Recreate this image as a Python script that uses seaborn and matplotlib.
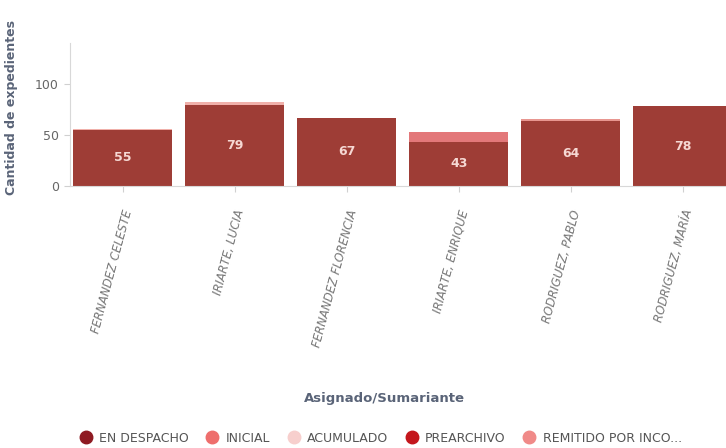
import seaborn as sns
import matplotlib.pyplot as plt
import pandas as pd
from matplotlib.lines import Line2D

# data
names = ["FERNANDEZ CELESTE", "IRIARTE, LUCIA", "FERNANDEZ FLORENCIA",
         "IRIARTE, ENRIQUE", "RODRIGUEZ, PABLO", "RODRIGUEZ, MARÍA"]
en_despacho = [55, 79, 67, 43, 64, 78]
inicial = [0, 0, 0, 10, 0, 0]
acumulado = [1, 3, 0, 0, 0, 0]
prearchivo = [0, 0, 0, 0, 0, 0]
remitido = [0, 0, 0, 0, 2, 0]

estados = ["EN DESPACHO", "INICIAL", "ACUMULADO", "PREARCHIVO", "REMITIDO POR INCO..."]
bar_colors = ["#9E3D36", "#E3787A", "#F0B0AA", "#C0282D", "#E89690"]
legend_colors = ["#8E1A22", "#EE6E6C", "#F7CFCD", "#C4161C", "#F08A88"]

df = pd.DataFrame({"Asignado": names, "EN DESPACHO": en_despacho, "INICIAL": inicial,
                   "ACUMULADO": acumulado, "PREARCHIVO": prearchivo,
                   "REMITIDO POR INCO...": remitido})

sns.set_style("white")
plt.rcParams['font.family'] = ['DejaVu Sans']
fig = plt.figure(figsize=(7.26, 4.48), dpi=100)
ax = fig.add_axes([0.0964, 0.585, 0.921, 0.319])

# stacked bars: draw cumulative totals from the top layer down
cum = df[estados].cumsum(axis=1)
for est, col in reversed(list(zip(estados, bar_colors))):
    sns.barplot(x=df["Asignado"], y=cum[est], color=col, width=0.89,
                saturation=1, ax=ax, edgecolor="none")

for i, v in enumerate(en_despacho):
    ax.text(i, v / 2, str(v), ha="center", va="center", color="#F6D8D3",
            fontsize=9, fontweight="bold")

ax.set_xlim(-0.47, 5.5)
ax.set_ylim(0, 140)
ax.set_yticks([0, 50, 100])
ax.tick_params(axis="y", colors="#D0D0D0", labelcolor="#666666", labelsize=9,
               length=4, width=0.8, left=True, pad=4)
ax.tick_params(axis="x", colors="#D0D0D0", labelcolor="#777777", labelsize=8.5,
               length=4, width=0.8, bottom=True, pad=12)
for lab in ax.get_xticklabels():
    lab.set_rotation(75)
    lab.set_ha("right")
    lab.set_rotation_mode("anchor")
    lab.set_style("italic")

sns.despine(ax=ax, top=True, right=True)
ax.spines["left"].set_color("#D8D8D8")
ax.spines["bottom"].set_color("#D8D8D8")

ax.set_ylabel("Cantidad de expedientes", fontsize=9, fontweight="bold",
              color="#5A6478")
ax.yaxis.set_label_coords(-0.078, 0.55)
ax.set_xlabel("")
fig.text(0.53, 0.111, "Asignado/Sumariante", ha="center", va="center",
         fontsize=9.5, fontweight="bold", color="#5A6478")

handles = [Line2D([], [], marker="o", linestyle="", markersize=9,
                  markerfacecolor=c, markeredgecolor=c) for c in legend_colors]
fig.legend(handles, estados, loc="center", bbox_to_anchor=(0.52, 0.022), ncol=5,
           frameon=False, fontsize=9, handletextpad=0.05, columnspacing=0.9,
           labelcolor="#555555")

fig.savefig("out.png", dpi=100)
